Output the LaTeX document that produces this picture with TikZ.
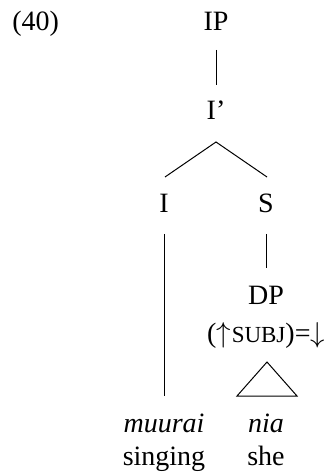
\documentclass[tikz,border=0pt]{standalone}
\usepackage{fontspec}
\setmainfont{Liberation Serif}
\begin{document}
\begin{tikzpicture}[x=0.5pt,y=-0.5pt,
  lbl/.style={anchor=base,inner sep=0pt,font=\fontsize{14}{17}\selectfont},
  branch/.style={line width=0.5pt}]
\useasboundingbox (0,0) rectangle (329,475);
% example number
\node[lbl,anchor=base west] (num) at (12,31) {(40)};
% tree labels
\node[lbl] (ip) at (216,31) {IP};
\node[lbl] (ibar) at (216,120) {I’};
\node[lbl] (i) at (164,213) {I};
\node[lbl] (s) at (266,213) {S};
\node[lbl] (dp) at (266,304) {DP};
\node[lbl] (ann) at (266,342) {($\uparrow$\kern0.5pt{\fontsize{11.5}{13}\selectfont SUBJ})=$\downarrow$};
\node[lbl] (w1) at (164,432) {\itshape muurai};
\node[lbl] (w2) at (266,432) {\itshape nia};
\node[lbl] (g1) at (164,465) {singing};
\node[lbl] (g2) at (266,465) {she};
% branches
\coordinate (top) at (216,142);
\coordinate (il) at (165,177);
\coordinate (sr) at (267,177);
\draw[branch] (216,50) -- (216,85);
\draw[branch] (il) -- (top) -- (sr);
\draw[branch] (164,234) -- (164,396);
\draw[branch] (266,234) -- (266,268);
% triangle over the DP
\coordinate (apex) at (267,362);
\coordinate (bl) at (237,396);
\coordinate (br) at (297,396);
\draw[branch,line join=miter] (apex) -- (bl) -- (br) -- cycle;
\end{tikzpicture}
\end{document}
